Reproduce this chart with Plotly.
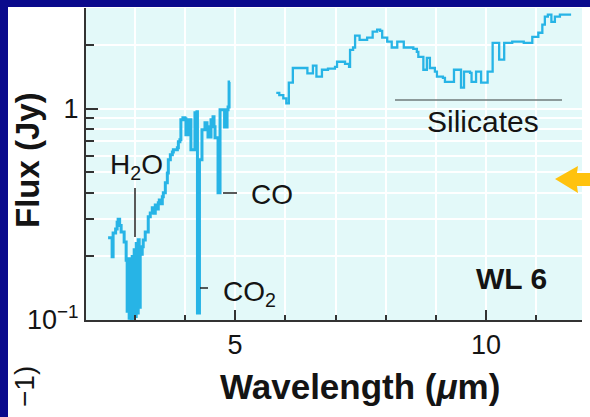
import plotly.graph_objects as go

# ---------------- data ----------------
# short-wavelength segment (step spectrum)
seg1_wl = [2.47, 2.55, 2.57, 2.62, 2.65, 2.67, 2.70, 2.73, 2.79, 2.83,
           2.85, 2.87, 2.89, 2.91, 2.93, 2.95, 2.97, 2.99, 3.01, 3.03,
           3.05, 3.07, 3.09, 3.11, 3.15, 3.17, 3.21, 3.27, 3.31, 3.35,
           3.38, 3.41, 3.44, 3.47, 3.49, 3.52, 3.55, 3.57, 3.61, 3.65,
           3.67, 3.71, 3.75, 3.77, 3.85, 3.87, 3.90, 3.92, 3.96, 4.00,
           4.02, 4.06, 4.12, 4.20, 4.24, 4.25, 4.29, 4.34, 4.40, 4.44,
           4.46, 4.52, 4.56, 4.58, 4.60, 4.66, 4.70, 4.79, 4.84, 4.86,
           4.88, 4.90]
seg1_flux = [0.245, 0.199, 0.258, 0.270, 0.290, 0.300, 0.280, 0.261, 0.234, 0.192,
             0.110, 0.195, 0.102, 0.190, 0.101, 0.200, 0.102, 0.215, 0.104, 0.230,
             0.108, 0.240, 0.115, 0.205, 0.222, 0.239, 0.261, 0.308, 0.321, 0.340,
             0.320, 0.350, 0.335, 0.359, 0.370, 0.355, 0.383, 0.400, 0.446, 0.497,
             0.573, 0.605, 0.625, 0.639, 0.653, 0.698, 0.713, 0.887, 0.906, 0.897,
             0.753, 0.887, 0.639, 0.957, 0.968, 0.108, 0.573, 0.795, 0.859, 0.822,
             0.736, 0.887, 0.916, 0.822, 0.729, 0.400, 0.990, 0.820, 0.990, 1.020,
             1.340, 1.340]

# long-wavelength segment (step spectrum)
seg2_wl = [5.82, 5.88, 5.96, 6.02, 6.07, 6.15, 6.44, 6.55, 6.62, 6.73,
           6.85, 6.99, 7.03, 7.19, 7.27, 7.29, 7.35, 7.39, 7.48, 7.63,
           7.74, 7.83, 7.89, 7.93, 8.03, 8.12, 8.23, 8.36, 8.55, 8.62,
           8.65, 8.75, 8.82, 8.88, 8.98, 9.02, 9.14, 9.18, 9.36, 9.50,
           9.56, 9.68, 9.71, 9.80, 9.90, 10.03, 10.13, 10.26, 10.36, 10.52,
           10.75, 10.92, 11.04, 11.12, 11.17, 11.23, 11.30, 11.37, 11.47, 11.67]
seg2_flux = [1.19, 1.16, 1.12, 1.06, 1.33, 1.56, 1.47, 1.60, 1.42, 1.53,
             1.55, 1.58, 1.67, 1.63, 1.58, 1.90, 1.95, 2.22, 2.12, 2.17,
             2.32, 2.37, 2.34, 2.17, 2.08, 1.95, 2.08, 1.95, 1.92, 1.86,
             1.76, 1.53, 1.74, 1.56, 1.50, 1.42, 1.40, 1.34, 1.53, 1.26,
             1.50, 1.48, 1.34, 1.50, 1.33, 1.50, 2.05, 1.71, 2.05, 2.08,
             2.05, 2.19, 2.29, 2.50, 2.73, 2.79, 2.58, 2.73, 2.79, 2.76]

x_tickvals = [5, 10]
x_ticktext = ["5", "10"]
x_minorvals = [3, 4, 6, 7, 8, 9, 11]
y_tickvals = [0.1, 1]
y_ticktext = ["10<sup>\u22121</sup>", "1"]
y_minorvals = [0.2, 0.3, 0.4, 0.5, 0.6, 0.7, 0.8, 0.9, 2, 3]

# ---------------- layout geometry ----------------
W, H = 590, 417
L, R, T, B = 86, 8, 8, 97
PW, PH = W - L - R, H - T - B


def fx(px):
    return (px - L) / PW


def fy(py):
    return (H - B - py) / PH


LINE_COL = "#27b4e6"
FONT = "Liberation Sans, Arial, sans-serif"
BLUE = "#0a0a8c"

fig = go.Figure()
for wl, fl, lw in [(seg1_wl, seg1_flux, 3), (seg2_wl, seg2_flux, 2.3)]:
    fig.add_trace(go.Scatter(x=wl, y=fl, mode="lines", line_shape="hv",
                             line=dict(color=LINE_COL, width=lw),
                             showlegend=False, hoverinfo="skip"))

shapes = [
    # blue slide border
    dict(type="rect", xref="paper", yref="paper", x0=fx(0), x1=fx(8), y0=fy(H), y1=fy(0),
         fillcolor=BLUE, line_width=0, layer="above"),
    dict(type="rect", xref="paper", yref="paper", x0=fx(0), x1=fx(W), y0=fy(7), y1=fy(0),
         fillcolor=BLUE, line_width=0, layer="above"),
    # label leader lines
    dict(type="line", xref="paper", yref="paper", x0=fx(135), x1=fx(135), y0=fy(188), y1=fy(237),
         line=dict(color="#222", width=1.5)),
    dict(type="line", xref="paper", yref="paper", x0=fx(223), x1=fx(237), y0=fy(193), y1=fy(193),
         line=dict(color="#222", width=1.5)),
    dict(type="line", xref="paper", yref="paper", x0=fx(200), x1=fx(208), y0=fy(288), y1=fy(288),
         line=dict(color="#222", width=1.5)),
    dict(type="line", xref="paper", yref="paper", x0=fx(395), x1=fx(562), y0=fy(100), y1=fy(100),
         line=dict(color="#6f7a7a", width=1.5)),
]
# orange arrow
arrow_pts = [(555, 179), (578, 166), (577, 173), (592, 173), (592, 186), (577, 186), (578, 193)]
path = "M " + " L ".join(f"{fx(a):.4f},{fy(b):.4f}" for a, b in arrow_pts) + " Z"
shapes.append(dict(type="path", xref="paper", yref="paper", path=path,
                   fillcolor="#ffc20e", line_width=0, layer="above"))

ann = []


def add_text(text, px, py, size, xanchor="center", angle=0):
    ann.append(dict(text=text, xref="paper", yref="paper", x=fx(px), y=fy(py),
                    xanchor=xanchor, yanchor="middle", showarrow=False, textangle=angle,
                    font=dict(family=FONT, size=size, color="#141414")))


add_text("H<sub>2</sub>O", 136, 166, 28)
add_text("CO", 249, 194, 28, xanchor="left")
add_text("CO<sub>2</sub>", 221, 293, 28, xanchor="left")
add_text("Silicates", 483, 121, 30)
add_text("<b>WL 6</b>", 474, 278, 30, xanchor="left")
add_text("<b>Wavelength (<i>\u03bc</i>m)</b>", 360, 386, 35)
add_text("<b>Flux (Jy)</b>", 27, 160, 33, angle=-90)
add_text("\u22121)", 25, 387, 28, angle=-90)

fig.update_layout(
    width=W, height=H,
    margin=dict(l=L, r=R, t=T, b=B, pad=0),
    paper_bgcolor="white",
    plot_bgcolor="#e3f9f9",
    shapes=shapes,
    annotations=ann,
    font=dict(family=FONT, size=27, color="#141414"),
)
fig.update_xaxes(
    range=[2.03, 11.91], showline=True, linecolor="#333", linewidth=2,
    tickmode="array", tickvals=x_tickvals, ticktext=x_ticktext,
    ticks="inside", ticklen=10, tickwidth=1.5, tickcolor="#333",
    showgrid=True, gridcolor="white", gridwidth=1.5, zeroline=False,
    tickfont=dict(size=27),
    minor=dict(tickvals=x_minorvals, ticks="inside", ticklen=5, tickwidth=1.5,
               tickcolor="#333", showgrid=True, gridcolor="white", gridwidth=1.5),
)
fig.update_yaxes(
    type="log", range=[-1, 0.4771], showline=True, linecolor="#333", linewidth=2,
    tickmode="array", tickvals=y_tickvals, ticktext=y_ticktext,
    ticks="inside", ticklen=12, tickwidth=1.5, tickcolor="#333",
    showgrid=True, gridcolor="white", gridwidth=1.5, zeroline=False,
    tickfont=dict(size=27),
    minor=dict(tickvals=y_minorvals, ticks="inside", ticklen=8, tickwidth=1.5,
               tickcolor="#333", showgrid=True, gridcolor="white", gridwidth=1.5),
)

fig.write_html("out.html")
